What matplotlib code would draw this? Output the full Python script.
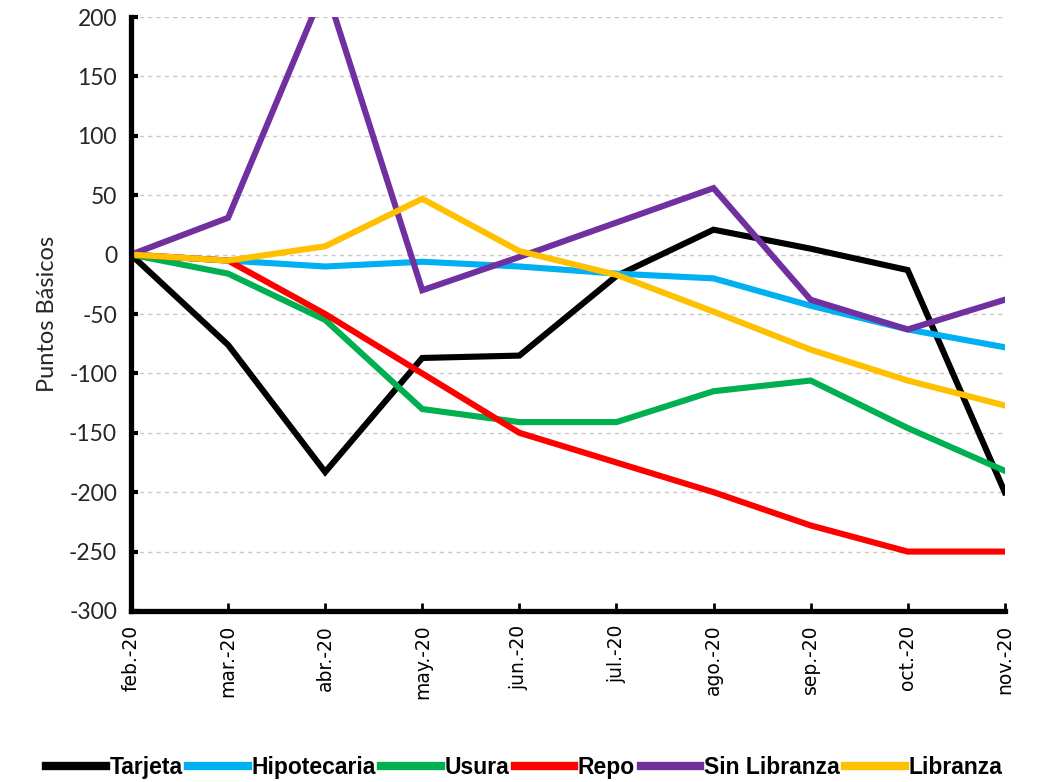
import matplotlib
matplotlib.use('Agg')
import matplotlib.pyplot as plt

plt.rcParams['axes.unicode_minus'] = False

# meses
meses = ['feb.-20', 'mar.-20', 'abr.-20', 'may.-20', 'jun.-20',
         'jul.-20', 'ago.-20', 'sep.-20', 'oct.-20', 'nov.-20']

# variaciones en puntos basicos
tarjeta = [0, -76, -183, -87, -85, -18, 21, 5, -13, -200]
hipotecaria = [0, -5, -10, -6, -10, -16, -20, -43, -63, -78]
usura = [0, -16, -55, -130, -141, -141, -115, -106, -146, -182]
repo = [0, -5, -50, -100, -150, -175, -200, -228, -250, -250]
sin_libranza = [0, 31, 226, -30, -2, 27, 56, -38, -63, -38]
libranza = [0, -5, 7, 47, 3, -17, -48, -80, -106, -127]

series = [
    ('Tarjeta', tarjeta, '#000000'),
    ('Hipotecaria', hipotecaria, '#00B0F0'),
    ('Usura', usura, '#00B050'),
    ('Repo', repo, '#FF0000'),
    ('Sin Libranza', sin_libranza, '#7030A0'),
    ('Libranza', libranza, '#FFC000'),
]

fig = plt.figure(figsize=(10.38, 7.82), dpi=100)
ax = fig.add_axes([0.1262, 0.2187, 0.8418, 0.7595])

x = range(len(meses))
for name, vals, col in series:
    ax.plot(x, vals, color=col, lw=4.4, label=name, solid_joinstyle='miter')

ax.set_xlim(0, len(meses) - 1)
ax.set_ylim(-300, 200)
ax.set_yticks(range(-300, 201, 50))
ax.grid(axis='y', color='#C8C8C8', ls=(0, (3, 3)), lw=1)
ax.set_axisbelow(True)

ax.set_xticks(list(x))
ax.set_xticklabels(meses, rotation=90, fontsize=13.5, family='DejaVu Sans')
for lab in ax.get_yticklabels():
    lab.set_family(['Lato', 'DejaVu Sans'])
    lab.set_fontsize(16.5)
    lab.set_color('#262626')

ax.tick_params(axis='y', direction='in', length=5, width=3, pad=10)
ax.tick_params(axis='x', direction='in', length=6, width=2, pad=10)

for s in ['top', 'right']:
    ax.spines[s].set_visible(False)
ax.spines['left'].set_linewidth(3.8)
ax.spines['bottom'].set_linewidth(3.8)

ax.set_ylabel('Puntos Básicos', fontsize=17, family=['Lato', 'DejaVu Sans'],
              color='#262626', labelpad=8)

leg = fig.legend(loc='center', bbox_to_anchor=(0.505, 0.018), ncol=6, frameon=False,
                 handlelength=2.6, handletextpad=0.15, columnspacing=0.25,
                 prop={'family': ['Liberation Sans Narrow', 'Liberation Sans', 'DejaVu Sans'],
                       'weight': 'bold', 'size': 16.5})
for h in leg.get_lines():
    h.set_linewidth(6)

fig.savefig('out.png', dpi=100)
